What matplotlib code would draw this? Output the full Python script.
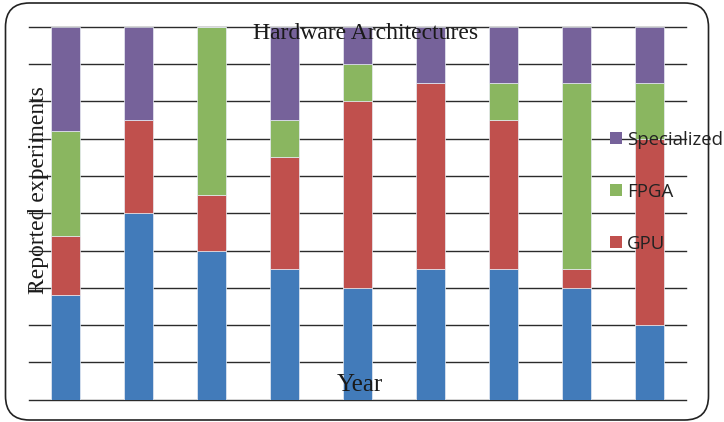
import matplotlib
matplotlib.use("Agg")
import matplotlib.pyplot as plt
from matplotlib.patches import FancyBboxPatch, Patch
import numpy as np

# Share of reported experiments per hardware architecture (percent of each year)
years = ["Y1", "Y2", "Y3", "Y4", "Y5", "Y6", "Y7", "Y8", "Y9"]
cpu = [28, 50, 40, 35, 30, 35, 35, 30, 20]
gpu = [16, 25, 15, 30, 50, 50, 40, 5, 50]
fpga = [28, 0, 45, 10, 10, 0, 10, 50, 15]
specialized = [28, 25, 0, 25, 10, 15, 15, 15, 15]

series = [
    ("CPU", cpu, "#427BBA"),
    ("GPU", gpu, "#C0504D"),
    ("FPGA", fpga, "#8AB660"),
    ("Specialized", specialized, "#76629A"),
]

fig = plt.figure(figsize=(7.24, 4.22), dpi=100)
ax = fig.add_axes([0.0401, 0.0528, 0.9074, 0.8839])

x = np.arange(len(years))
bottom = np.zeros(len(years))
for name, vals, color in series:
    vals = np.array(vals, dtype=float)
    ax.bar(x, vals, width=0.4, bottom=bottom, color=color,
           edgecolor="#e8ecf4", linewidth=0.5, zorder=3, label=name)
    bottom += vals

# horizontal gridlines every 10 %
for g in range(0, 101, 10):
    ax.axhline(g, color="#2b2b2b", linewidth=1.0, zorder=1, clip_on=False)

ax.set_xlim(-0.5, len(years) - 0.5)
ax.set_ylim(0, 100)
ax.set_xticks([])
ax.set_yticks([])
for s in ax.spines.values():
    s.set_visible(False)

serif = ["Liberation Serif", "DejaVu Serif"]
fig.text(0.505, 0.92, "Hardware Architectures", ha="center", va="center",
         fontsize=17, family=serif, color="#1a1a1a", zorder=6)
fig.text(0.497, 0.088, "Year", ha="center", va="center",
         fontsize=18, family=serif, color="#1a1a1a", zorder=6)
fig.text(0.053, 0.55, "Reported experiments", ha="center", va="center",
         rotation=90, fontsize=17, family=serif, color="#1a1a1a", zorder=6)

handles = [Patch(facecolor=c, label=n) for n, _, c in series[::-1][:3]]
leg = fig.legend(handles=handles, loc="upper left",
                 bbox_to_anchor=(0.8425, 0.690), frameon=False,
                 borderpad=0, borderaxespad=0,
                 handlelength=0.65, handleheight=0.65,
                 handletextpad=0.27, labelspacing=1.82,
                 prop={"family": ["Open Sans", "DejaVu Sans"], "size": 13.4})
for t in leg.get_texts():
    t.set_color("#222222")

# rounded outer frame
frame = FancyBboxPatch((0.055, 0.02), 7.03, 4.17,
                       boxstyle="round,pad=0,rounding_size=0.24",
                       transform=fig.dpi_scale_trans, fill=False,
                       edgecolor="#222222", linewidth=1.2, zorder=10)
fig.patches.append(frame)

fig.savefig("out.png", dpi=100)
